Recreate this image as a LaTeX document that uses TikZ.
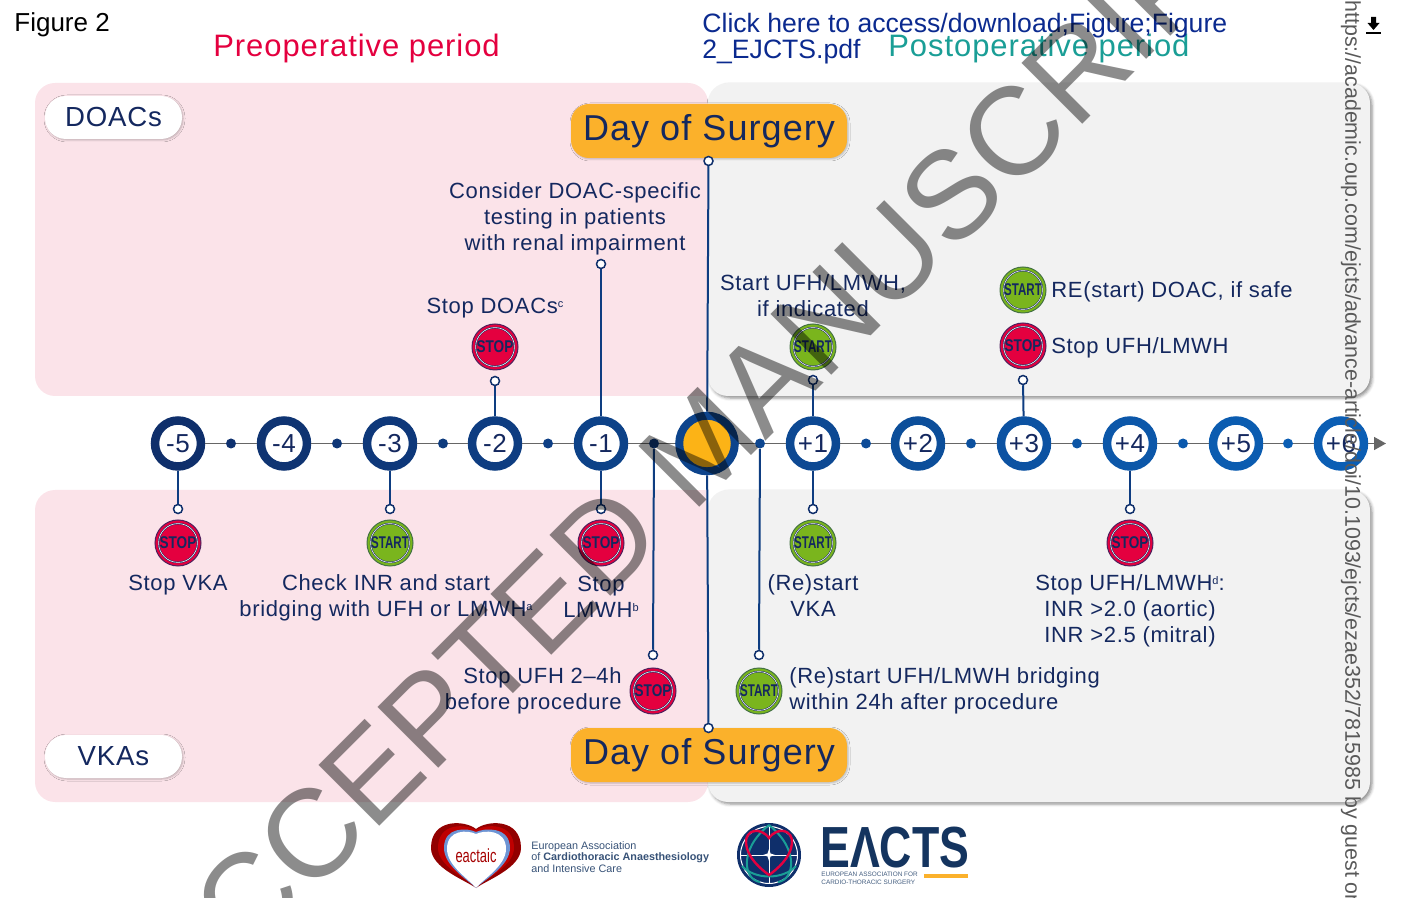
\documentclass[tikz,border=0pt]{standalone}
\usepackage{fontspec}
\setmainfont{Liberation Sans}
\newfontfamily\bodyfont[LetterSpace=3]{Liberation Sans}
\usetikzlibrary{arrows.meta,shadows,shadows.blur}

\definecolor{navytext}{HTML}{14285F}
\definecolor{ringnavy}{HTML}{0F2F6B}
\definecolor{ringblue}{HTML}{0B5EB4}
\definecolor{linkblue}{HTML}{0B2A8F}
\definecolor{preop}{HTML}{E4003F}
\definecolor{postop}{HTML}{1A9E96}
\definecolor{pinkpanel}{HTML}{FBE3E9}
\definecolor{greypanel}{HTML}{F2F2F2}
\definecolor{dayorange}{HTML}{FBB12B}
\definecolor{zeroorange}{HTML}{FCB316}
\definecolor{stopred}{HTML}{E4003F}
\definecolor{startgreen}{HTML}{7AB51D}
\definecolor{eactsnavy}{HTML}{14345F}

\newcommand{\notemark}[1]{\raisebox{.5ex}{\fontsize{5.5}{6}\selectfont #1}}

\tikzset{
  ring/.style={circle, draw=#1, fill=white, line width=4.25pt, minimum size=23pt, inner sep=0pt,
    text=navytext, font=\bodyfont\fontsize{13}{13}\selectfont},
  dot/.style={circle, fill=#1, minimum size=5pt, inner sep=0pt},
  pin/.style={circle, draw=ringnavy, fill=white, line width=.75pt, minimum size=4.5pt, inner sep=0pt},
  link/.style={draw=ringnavy!70!ringblue, line width=1pt},
  stopicon/.style={circle, fill=stopred, draw=ringnavy!70!stopred, line width=.5pt, minimum size=23pt, inner sep=0pt,
    text=navytext, font=\fontsize{8.5}{8.5}\selectfont\bfseries,
    path picture={\draw[navytext, line width=.25pt, double=white, double distance=.3pt]
      (path picture bounding box.center) circle (9.7pt);}},
  starticon/.style={stopicon, fill=startgreen, draw=ringnavy!50!startgreen},
  say/.style={text=navytext, align=center, inner sep=0pt,
    font=\bodyfont\fontsize{11}{13}\selectfont},
  panel/.style={rounded corners=10pt},
  greybox/.style={panel, fill=greypanel, blur shadow={shadow xshift=1pt, shadow yshift=-1pt, shadow blur radius=1.5pt, shadow opacity=45}},
  pill/.style={fill=white, rounded corners=10.5pt, minimum width=68.5pt, minimum height=21.5pt, inner sep=0pt,
    text=navytext, font=\bodyfont\fontsize{13.8}{14}\selectfont,
    blur shadow={shadow xshift=.5pt, shadow yshift=-.5pt, shadow blur radius=1pt, shadow opacity=25}},
  daypill/.style={fill=dayorange, rounded corners=9pt, minimum width=138pt, minimum height=27pt, inner sep=0pt,
    text=navytext, font=\bodyfont\fontsize{18}{18}\selectfont,
    blur shadow={shadow xshift=.5pt, shadow yshift=-.5pt, shadow blur radius=1pt, shadow opacity=25}},
}

\begin{document}
\begin{tikzpicture}[x=.5pt,y=-.5pt]
  \useasboundingbox (0,0) rectangle (1404,898);
  \clip (0,0) rectangle (1404,898);

  % panels
  \fill[panel, pinkpanel] (35,83) rectangle (708,396);
  \fill[pinkpanel] (660,360) rectangle (708,396);
  \fill[panel, pinkpanel] (35,490) rectangle (708,802);
  \fill[pinkpanel] (660,490) rectangle (708,530);
  \path[greybox] (708,83) rectangle (1370,396);
  \path[greybox] (708,490) rectangle (1370,802);

  % headings
  \node[anchor=west, inner sep=0pt, font=\fontsize{13}{13}\selectfont] (figname) at (14,25) {Figure 2};
  \node[anchor=west, inner sep=0pt, text=preop, font=\bodyfont\fontsize{15.5}{16}\selectfont] (preopname) at (213,48.5) {Preoperative period};
  \node[anchor=west, inner sep=0pt, text=postop, font=\bodyfont\fontsize{15.5}{16}\selectfont] (postopname) at (888,48.5) {Postoperative period};
  \node[anchor=north west, inner sep=0pt, align=left, text=linkblue, font=\fontsize{13.3}{13}\selectfont] (linkname) at (702,13) {Click here to access/download;Figure;Figure\\2\_EJCTS.pdf};

  \node[pill] (doacs) at (113.5,117.5) {DOACs};
  \node[pill] (vkas) at (113.5,756.5) {VKAs};
  \node[daypill] (daytop) at (709,131) {Day of Surgery};
  \node[daypill] (daybottom) at (709,755) {Day of Surgery};

  % time axis
  \node[ring={ringblue!0!ringnavy}] (rm5) at (178,443.5) {-5};
  \node[ring={ringblue!10!ringnavy}] (rm4) at (284,443.5) {-4};
  \node[ring={ringblue!20!ringnavy}] (rm3) at (390,443.5) {-3};
  \node[ring={ringblue!30!ringnavy}] (rm2) at (495,443.5) {-2};
  \node[ring={ringblue!40!ringnavy}] (rm1) at (601,443.5) {-1};
  \node[circle, draw=ringblue!45!ringnavy, fill=zeroorange, line width=4pt, minimum size=27.8pt, inner sep=0pt] (rzero) at (707,443.5) {};
  \node[ring={ringblue!55!ringnavy}] (rp1) at (813,443.5) {+1};
  \node[ring={ringblue!65!ringnavy}] (rp2) at (918,443.5) {+2};
  \node[ring={ringblue!75!ringnavy}] (rp3) at (1024,443.5) {+3};
  \node[ring={ringblue!85!ringnavy}] (rp4) at (1130,443.5) {+4};
  \node[ring={ringblue!95!ringnavy}] (rp5) at (1236,443.5) {+5};
  \node[ring={ringblue}] (rp6) at (1341,443.5) {+6};

  \node[dot={ringblue!5!ringnavy}] (dm5) at (231,443.5) {};
  \node[dot={ringblue!15!ringnavy}] (dm4) at (337,443.5) {};
  \node[dot={ringblue!25!ringnavy}] (dm3) at (443,443.5) {};
  \node[dot={ringblue!35!ringnavy}] (dm2) at (548,443.5) {};
  \node[dot={ringblue!20!ringnavy}] (dm1) at (654,443.5) {};
  \node[dot={ringblue!50!ringnavy}] (dp0) at (760,443.5) {};
  \node[dot={ringblue!60!ringnavy}] (dp1) at (866,443.5) {};
  \node[dot={ringblue!70!ringnavy}] (dp2) at (971,443.5) {};
  \node[dot={ringblue!80!ringnavy}] (dp3) at (1077,443.5) {};
  \node[dot={ringblue!90!ringnavy}] (dp4) at (1183,443.5) {};
  \node[dot={ringblue}] (dp5) at (1288,443.5) {};
  \coordinate (axisend) at (1386,443.5);

  \draw[black!60, line width=.75pt] (rm5) -- (dm5) -- (rm4) -- (dm4) -- (rm3) -- (dm3) -- (rm2) -- (dm2) -- (rm1) -- (dm1) -- (rzero) -- (dp0) -- (rp1) -- (dp1) -- (rp2) -- (dp2) -- (rp3) -- (dp3) -- (rp4) -- (dp4) -- (rp5) -- (dp5) -- (rp6);
  \draw[black!60, line width=.75pt, -{Triangle[length=6pt,width=6.5pt]}] (rp6) -- (axisend);

  % pins
  \node[pin] (pzerotop) at (708.5,161) {};
  \node[pin] (pzerobottom) at (708.5,728) {};
  \node[pin] (pm1top) at (601,264) {};
  \node[pin] (pm2top) at (495,381) {};
  \node[pin] (pp1top) at (813,380) {};
  \node[pin] (pp3top) at (1023,380) {};
  \node[pin] (pm5bottom) at (178,509) {};
  \node[pin] (pm3bottom) at (390,509) {};
  \node[pin] (pm1bottom) at (601,509) {};
  \node[pin] (pp1bottom) at (813,509) {};
  \node[pin] (pp4bottom) at (1130,509) {};
  \node[pin] (pdm1) at (653,655) {};
  \node[pin] (pdp0) at (759,655) {};

  \draw[link] (pzerotop) -- (rzero);
  \draw[link] (rzero) -- (pzerobottom);
  \draw[link] (pm1top) -- (rm1);
  \draw[link] (pm2top) -- (rm2);
  \draw[link] (pp1top) -- (rp1);
  \draw[link] (pp3top) -- (rp3);
  \draw[link] (rm5) -- (pm5bottom);
  \draw[link] (rm3) -- (pm3bottom);
  \draw[link] (rm1) -- (pm1bottom);
  \draw[link] (rp1) -- (pp1bottom);
  \draw[link] (rp4) -- (pp4bottom);
  \draw[link] (dm1) -- (pdm1);
  \draw[link] (dp0) -- (pdp0);

  % stop and start marks
  \node[stopicon] (stopdoac) at (495,347) {\scalebox{.8}[1]{STOP}};
  \node[starticon] (startufh) at (813,347) {\scalebox{.68}[1]{START}};
  \node[starticon] (startdoac) at (1023,290) {\scalebox{.68}[1]{START}};
  \node[stopicon] (stopufhtop) at (1023,346) {\scalebox{.8}[1]{STOP}};
  \node[stopicon] (stopvka) at (178,543) {\scalebox{.8}[1]{STOP}};
  \node[starticon] (startbridge) at (390,543) {\scalebox{.68}[1]{START}};
  \node[stopicon] (stoplmwh) at (601,543) {\scalebox{.8}[1]{STOP}};
  \node[starticon] (startvka) at (813,543) {\scalebox{.68}[1]{START}};
  \node[stopicon] (stopinr) at (1130,543) {\scalebox{.8}[1]{STOP}};
  \node[stopicon] (stopufh) at (653,691) {\scalebox{.8}[1]{STOP}};
  \node[starticon] (startafter) at (759,691) {\scalebox{.68}[1]{START}};

  % labels
  \node[say] (tconsider) at (575,219) {Consider DOAC-specific\\testing in patients\\with renal impairment};
  \node[say] (tstopdoac) at (495,308) {Stop DOACs\notemark{c}};
  \node[say] (tstartufh) at (813,296) {Start UFH/LMWH,\\if indicated};
  \node[say, anchor=west] (trestart) at (1051,292) {RE(start) DOAC, if safe};
  \node[say, anchor=west] (tstopufh) at (1051,348) {Stop UFH/LMWH};
  \node[say] (tstopvka) at (178,585) {Stop VKA};
  \node[say] (tcheck) at (386,598) {Check INR and start\\bridging with UFH or LMWH\notemark{a}};
  \node[say] (tstoplmwh) at (601,597) {Stop\\LMWH\notemark{b}};
  \node[say] (trevka) at (813,596) {(Re)start\\VKA};
  \node[say] (tinr) at (1130,611) {Stop UFH/LMWH\notemark{d}:\\INR >2.0 (aortic)\\INR >2.5 (mitral)};
  \node[say, anchor=east, align=right] (tstopproc) at (622,691) {Stop UFH 2–4h\\before procedure};
  \node[say, anchor=west, align=left] (tbridge) at (789,691) {(Re)start UFH/LMWH bridging\\within 24h after procedure};

  % eactaic logo
  \fill[red!55!black!95!red] (476,829) .. controls (465,820) and (431,818) .. (431,848) .. controls (431,868) and (465,880) .. (476,888) .. controls (487,880) and (521,868) .. (521,848) .. controls (521,818) and (487,820) .. (476,829) -- cycle;
  \fill[red!75!black] (476,830) .. controls (466,824) and (438,822) .. (438,848) .. controls (438,866) and (466,878) .. (476,888) .. controls (486,878) and (514,866) .. (514,848) .. controls (514,822) and (486,824) .. (476,830) -- cycle;
  \fill[cyan!45!blue!60] (476,832) .. controls (468,828) and (444,826) .. (444,848) .. controls (444,866) and (468,880) .. (476,888) .. controls (484,880) and (510,866) .. (510,848) .. controls (510,826) and (484,828) .. (476,832) -- cycle;
  \fill[white] (476,834) .. controls (468,830) and (447,829) .. (447,849) .. controls (447,866) and (470,880) .. (476,888) .. controls (482,880) and (506,866) .. (506,849) .. controls (506,829) and (484,830) .. (476,834) -- cycle;
  \node[inner sep=0pt, text=red!65!black, font=\fontsize{9.5}{10}\selectfont] (eactaicmark) at (476,856) {\scalebox{.68}[1]{eactaic}};
  \node[anchor=west, inner sep=0pt, align=left, text=eactsnavy!85!white, font=\fontsize{5.4}{5.9}\selectfont] (eactaicname) at (531,857) {European Association\\of \textbf{Cardiothoracic Anaesthesiology}\\and Intensive Care};

  % eacts logo
  \fill[ringnavy] (769,855) circle (32);
  \draw[white, line width=.5pt] (769,855) circle (28.5);
  \draw[white, line width=.4pt] (741,855) -- (797,855) (769,827) -- (769,883);
  \draw[postop, line width=1pt] (769,825) .. controls (738,850) and (744,880) .. (760,882);
  \draw[postop, line width=1pt] (769,825) .. controls (800,850) and (794,880) .. (778,882);
  \draw[postop, line width=1pt] (742,866) .. controls (755,880) and (783,880) .. (796,866);
  \draw[stopred, line width=1.2pt] (769,838) .. controls (760,826) and (745,830) .. (746,843) .. controls (747,858) and (762,870) .. (769,875) .. controls (776,870) and (791,858) .. (792,843) .. controls (793,830) and (778,826) .. (769,838) -- cycle;
  \fill[white] (769,849) -- (770.5,853.5) -- (775,855) -- (770.5,856.5) -- (769,861) -- (767.5,856.5) -- (763,855) -- (767.5,853.5) -- cycle;
  \node[anchor=west, inner sep=0pt, text=eactsnavy, font=\fontsize{29}{29}\selectfont\bfseries] (eactsmark) at (820,848) {\scalebox{.77}[1]{EΛCTS}};
  \node[anchor=west, inner sep=0pt, align=left, text=eactsnavy!80!white, font=\fontsize{3.2}{4}\selectfont] (eactsname) at (821,878) {EUROPEAN ASSOCIATION FOR\\CARDIO-THORACIC SURGERY};
  \fill[dayorange] (924,874) rectangle (968,878);

  % watermark and side text
  \node[inner sep=0pt, black, opacity=.45, rotate=45, font=\fontsize{62.5}{63}\selectfont] (stamp) at (701,445) {ACCEPTED MANUSCRIPT};
  \node[anchor=west, inner sep=0pt, rotate=-90, text=black!65, font=\fontsize{10.7}{11}\selectfont] (sidenote) at (1351,0) {https://academic.oup.com/ejcts/advance-article/doi/10.1093/ejcts/ezae352/7815985 by guest on};
  \draw[black, line width=.7pt] (1366,33) -- (1381,33);
  \fill[black] (1371,17) rectangle (1376,23) (1367.5,23) -- (1379.5,23) -- (1373.5,30) -- cycle;
\end{tikzpicture}
\end{document}
